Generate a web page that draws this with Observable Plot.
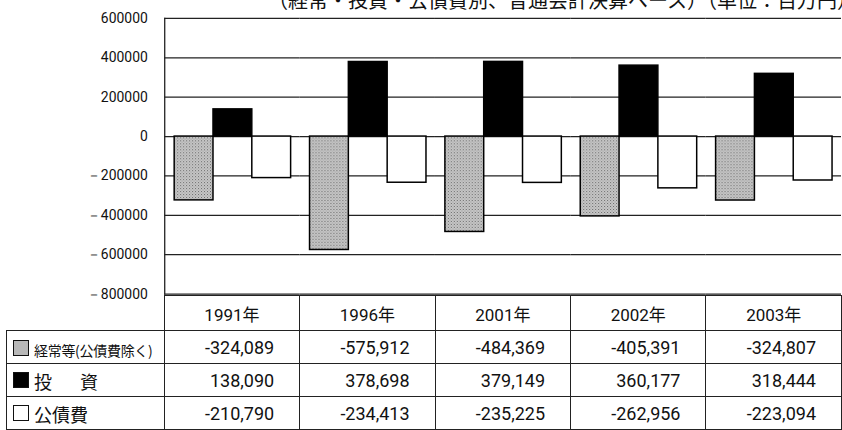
<!DOCTYPE html>
<html><head><meta charset="utf-8">
<script src="https://cdn.jsdelivr.net/npm/d3@7"></script>
<script src="https://cdn.jsdelivr.net/npm/@observablehq/plot@0.6"></script>
<style>
html,body{margin:0;padding:0;background:#fff;overflow:hidden;width:842px;height:430px;}
#wrap{position:relative;width:842px;height:430px;overflow:hidden;}
#title{position:absolute;left:268px;top:-10px;font-family:"Noto Sans CJK JP",sans-serif;font-size:20px;line-height:20px;white-space:nowrap;color:#111;}
#chart{position:absolute;left:0;top:0;}
#table{position:absolute;left:6px;top:295px;border-collapse:collapse;table-layout:fixed;color:#111;}
#table td{border:1.3px solid #222;padding:0;height:33px;box-sizing:border-box;}
#table tr.hdr td{height:35px;}
#table td.corner{border-top:none;border-left:none;}
#table td.yr{text-align:center;font-family:Roboto,"Noto Sans CJK JP",sans-serif;font-size:17px;}
#table td.num{text-align:right;padding-right:25px;font-family:Roboto,"Liberation Sans",sans-serif;font-size:18px;}
#table td.lab{font-family:"Noto Sans CJK JP",sans-serif;white-space:nowrap;padding-left:6px;}
.sw{display:inline-block;width:14px;height:14px;border:1.3px solid #111;vertical-align:middle;margin-right:5px;position:relative;top:-1px;}
.lt0{font-size:14px;letter-spacing:-0.3px;vertical-align:middle;}
.lt1{font-size:18px;letter-spacing:5px;vertical-align:middle;}
.lt2{font-size:18px;vertical-align:middle;}
</style></head>
<body>
<svg width="0" height="0" style="position:absolute"><defs>
<pattern id="dots" width="3" height="3" patternUnits="userSpaceOnUse">
<rect width="3" height="3" fill="#c8c8c8"/><rect width="1" height="1" fill="#666"/><rect x="1.5" y="1.5" width="1" height="1" fill="#888"/>
</pattern></defs></svg>
<div id="wrap">
<div id="title">（経常・投資・公債費別、普通会計決算ベース）（単位：百万円）</div>
<div id="chart"></div>
<table id="table"></table>
</div>
<script>
const years = ["1991年","1996年","2001年","2002年","2003年"];
const series = ["経常等(公債費除く)","投資","公債費"];
const rowLabels = ["経常等(公債費除く)","投　資","公債費"];
const keijo = [-324089,-575912,-484369,-405391,-324807];
const toshi = [138090,378698,379149,360177,318444];
const kosai = [-210790,-234413,-235225,-262956,-223094];
const yTicks = [600000,400000,200000,0,-200000,-400000,-600000,-800000];
const fills = ["url(#dots)","#000","#fff"];

const rows = [keijo, toshi, kosai];
const data = years.flatMap((y,i)=>series.map((s,j)=>({year:y, s, v:rows[j][i]})));

const chart = Plot.plot({
  width: 846, height: 310,
  marginLeft: 164, marginRight: 0, marginTop: 18, marginBottom: 15,
  style: {fontFamily: "Roboto, 'Liberation Sans', sans-serif", fontSize: "14px", color: "#111", background: "transparent", overflow: "visible"},
  fx: {domain: years, padding: 0, axis: null},
  x: {domain: series, paddingInner: 0, paddingOuter: 0.227, axis: null},
  y: {domain: [-800000, 600000], axis: null},
  color: {domain: series, range: fills},
  marks: [
    Plot.ruleY(yTicks, {stroke: "#222", strokeWidth: 1.3}),
    Plot.barY(data, {fx: "year", x: "s", y: "v", fill: "s", stroke: "#000", strokeWidth: 1.5}),
    Plot.axisY(yTicks, {label: null, tickSize: 0, tickPadding: 17, fontSize: 14, tickFormat: d => d < 0 ? "－" + Math.abs(d) : String(d)}),
    Plot.frame({anchor: "left", facet: "super", stroke: "#222", strokeWidth: 1.3})
  ]
});
document.getElementById("chart").append(chart);

const fmt = v => (v < 0 ? "-" : "") + d3.format(",")(Math.abs(v));
let html = "<colgroup><col style='width:158px'>" + years.map(() => "<col style='width:136.4px'>").join("") + "</colgroup>";
html += "<tr class='hdr'><td class='corner'></td>" + years.map(y => `<td class='yr'>${y}</td>`).join("") + "</tr>";
rows.forEach((vals, i) => {
  html += `<tr><td class='lab'><span class='sw' style='background:${fills[i]}'></span><span class='lt${i}'>${rowLabels[i]}</span></td>` +
    vals.map(v => `<td class='num'>${fmt(v)}</td>`).join("") + "</tr>";
});
document.getElementById("table").innerHTML = html;
document.querySelector(".sw").style.background = "#b8b8b8";
</script>
</body></html>
